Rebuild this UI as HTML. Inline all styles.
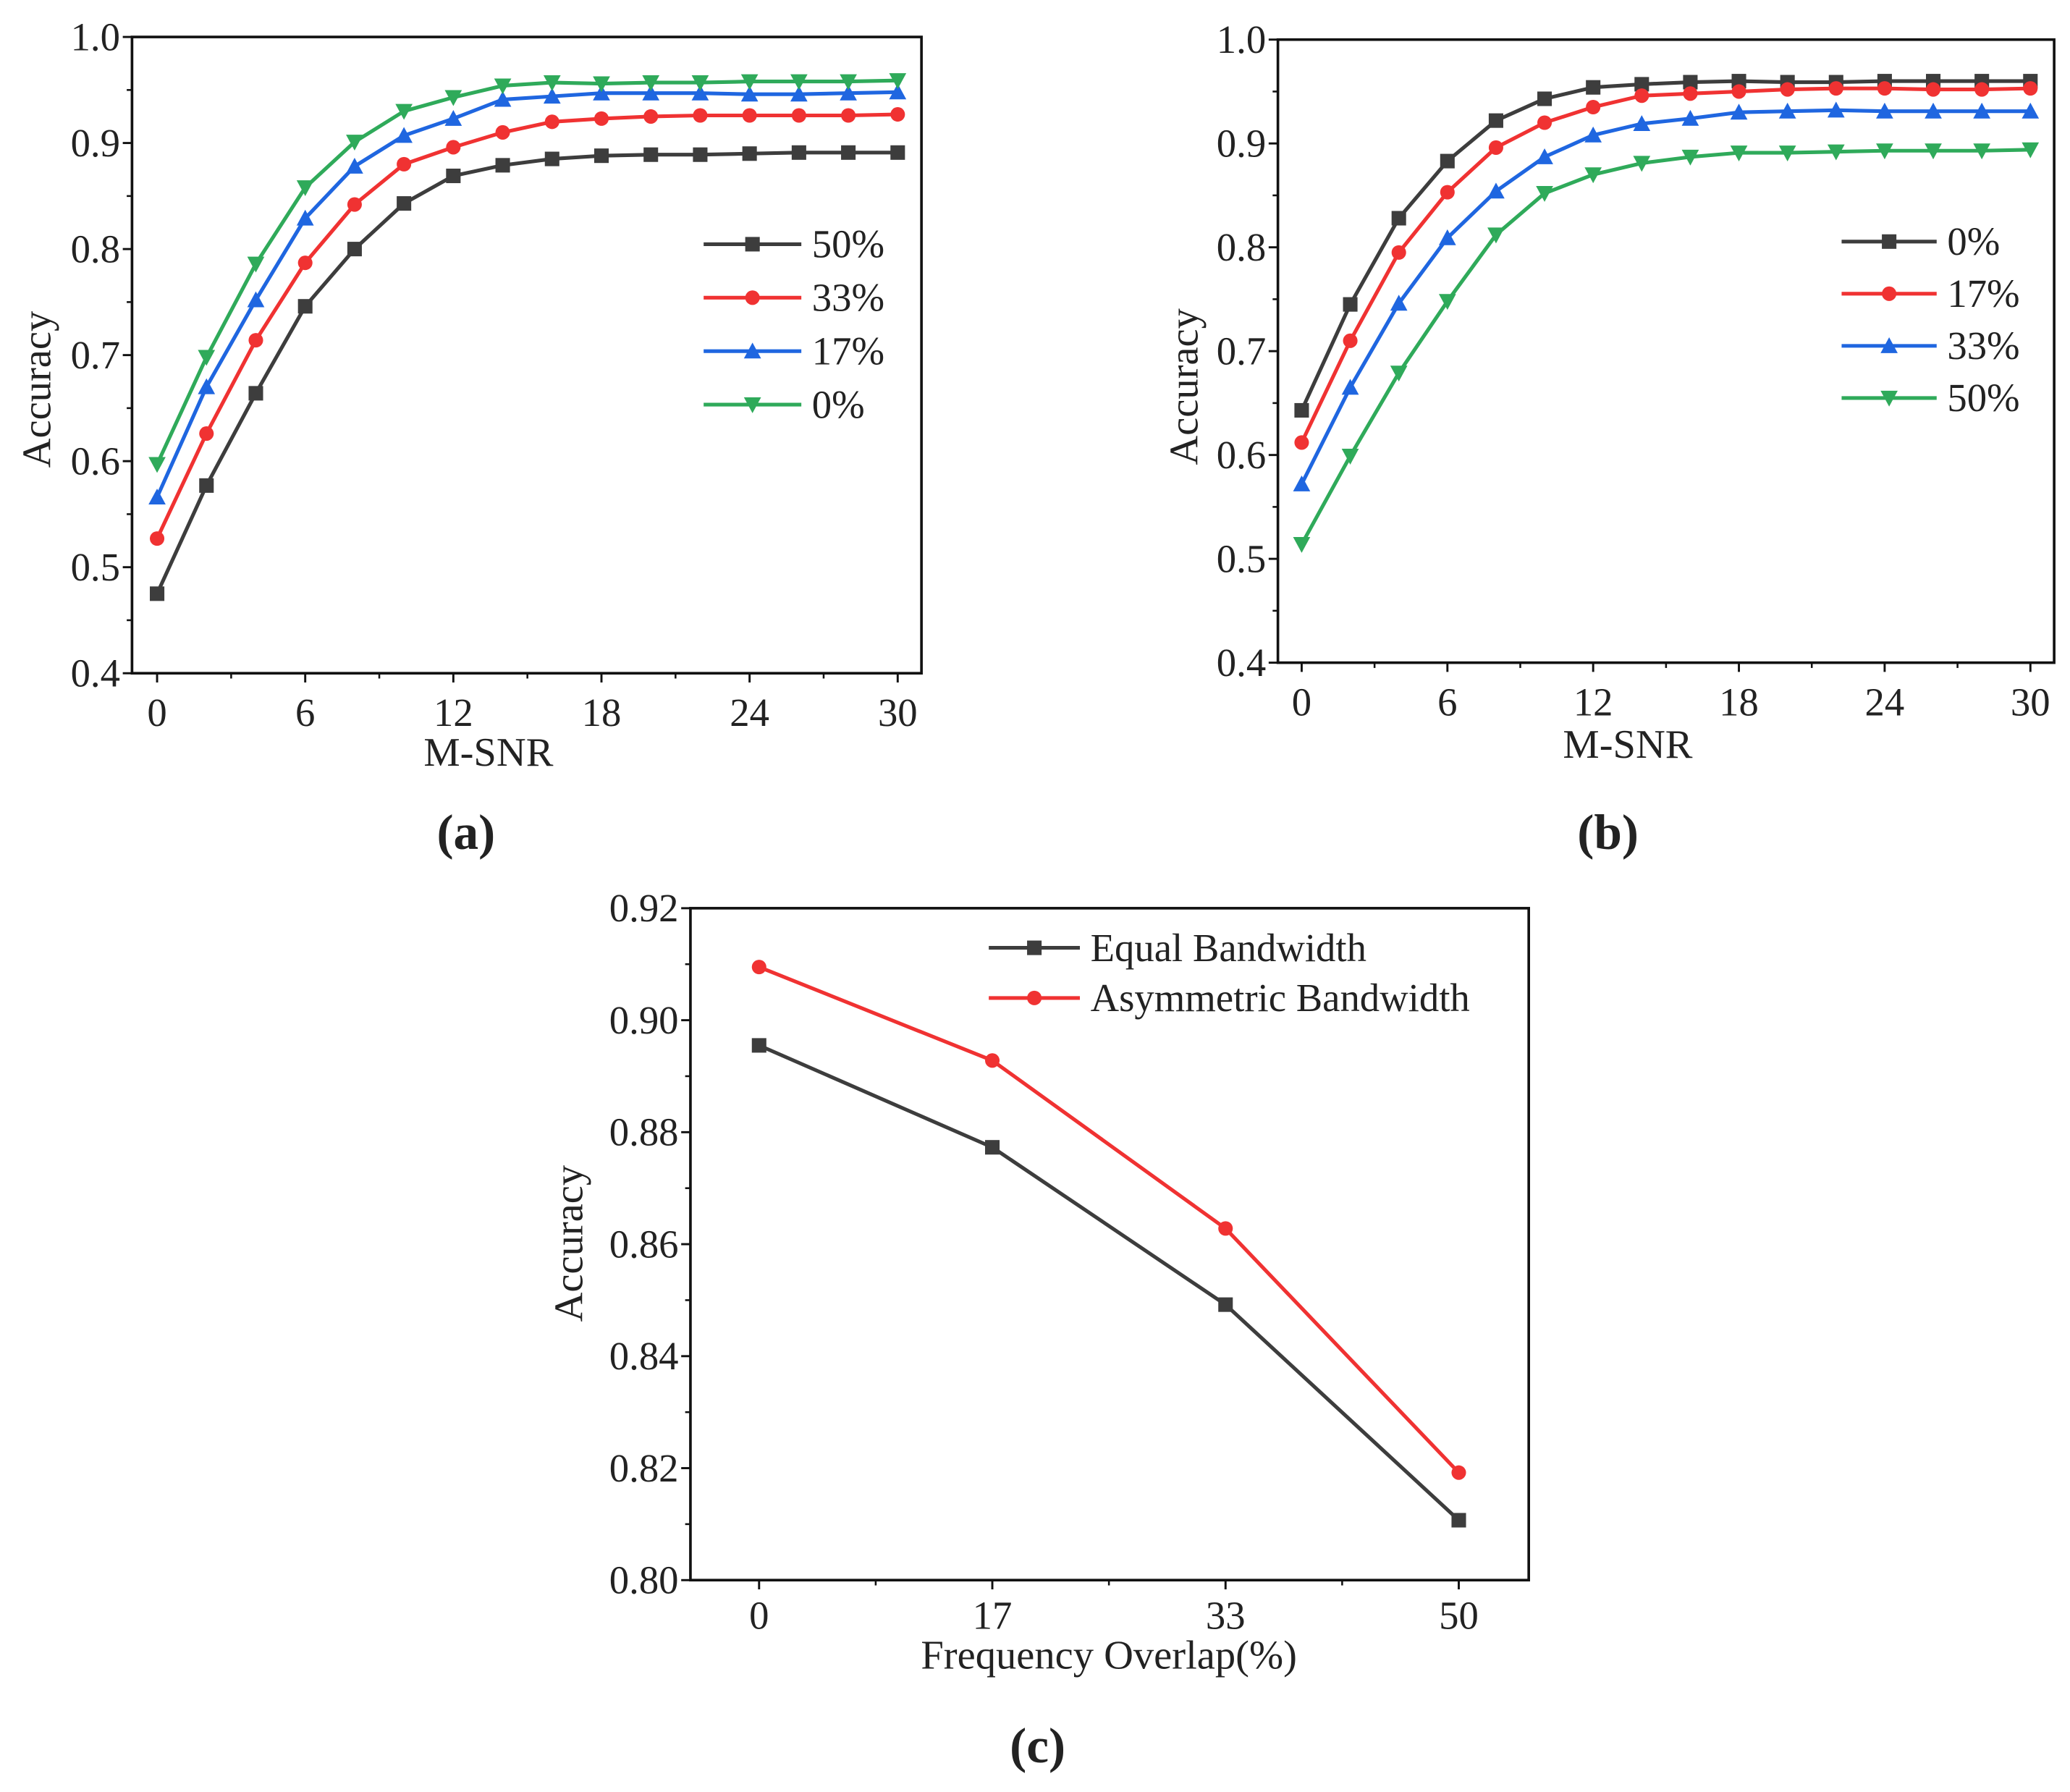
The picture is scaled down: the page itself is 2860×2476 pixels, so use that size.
<!DOCTYPE html>
<html><head><meta charset="utf-8"><style>
html,body{margin:0;padding:0;background:#fff;}
svg{display:block;}
text{font-family:"Liberation Serif",serif;fill:#222;}
</style></head><body>
<svg id="fig" width="2860" height="2476" viewBox="0 0 1568 1357.5" preserveAspectRatio="none" xmlns="http://www.w3.org/2000/svg"></svg>
<script>
const snrX = [0,2,4,6,8,10,12,14,16,18,20,22,24,26,28,30];
const aLabels = ["50%","33%","17%","0%"];
const a50 = [.475,.577,.664,.746,.800,.843,.869,.879,.885,.888,.889,.889,.890,.891,.891,.891];
const a33 = [.527,.626,.714,.787,.842,.880,.896,.910,.920,.923,.925,.926,.926,.926,.926,.927];
const a17 = [.566,.670,.752,.829,.878,.907,.923,.941,.944,.947,.947,.947,.946,.946,.947,.948];
const a0  = [.597,.698,.786,.858,.901,.930,.943,.954,.957,.956,.957,.957,.958,.958,.958,.959];
const bLabels = ["0%","17%","33%","50%"];
const b0  = [.643,.745,.828,.883,.922,.943,.954,.957,.959,.960,.959,.959,.960,.960,.960,.960];
const b17 = [.612,.710,.795,.853,.896,.920,.935,.946,.948,.950,.952,.953,.953,.952,.952,.953];
const b33 = [.572,.665,.746,.809,.854,.887,.908,.919,.924,.930,.931,.932,.931,.931,.931,.931];
const b50 = [.514,.599,.679,.748,.812,.852,.870,.881,.887,.891,.891,.892,.893,.893,.893,.894];
const snrTicks = [0,6,12,18,24,30];
const accTicksAB = [0.4,0.5,0.6,0.7,0.8,0.9,1.0];
const cCats = ["0","17","33","50"];
const cLabels = ["Equal Bandwidth","Asymmetric Bandwidth"];
const cEqual = [.8955,.8773,.8492,.8107];
const cAsym  = [.9095,.8928,.8628,.8192];
const cTicks = [0.80,0.82,0.84,0.86,0.88,0.90,0.92];

const svg = document.getElementById('fig');
const NS = "http://www.w3.org/2000/svg";
function mk(tag, attrs, parent){
  const e = document.createElementNS(NS, tag);
  for (const k in attrs) e.setAttribute(k, attrs[k]);
  (parent||svg).appendChild(e);
  return e;
}
const COL = {black:"#3d3d3d", red:"#f03232", blue:"#1f66e0", green:"#2faa5a"};

function marker(g, type, x, y, color){
  let m;
  const s = 5.5;
  if (type==="square") m = mk('rect',{x:x-s,y:y-s,width:2*s,height:2*s,fill:color},g);
  else if (type==="circle") m = mk('circle',{cx:x,cy:y,r:s,fill:color},g);
  else if (type==="up") m = mk('polygon',{points:`${x},${y-s-1} ${x-s-1},${y+s} ${x+s+1},${y+s}`,fill:color},g);
  else m = mk('polygon',{points:`${x},${y+s+1} ${x-s-1},${y-s} ${x+s+1},${y-s}`,fill:color},g);
  
  
}

function panel(cfg){
  const g = mk('g',{});
  
  
  const X = cfg.xs, Y = cfg.ys;
  const fr = mk('rect',{x:cfg.L,y:cfg.T,width:cfg.R-cfg.L,height:cfg.B-cfg.T,fill:"none",stroke:"#111","stroke-width":2},g);
  
  
  cfg.yTicks.forEach((v,i)=>{
    const y = Y(v);
    mk('line',{x1:cfg.L-7,x2:cfg.L,y1:y,y2:y,stroke:"#111","stroke-width":1.6},g);
    if (i<cfg.yTicks.length-1){
      const ym = Y((v+cfg.yTicks[i+1])/2);
      mk('line',{x1:cfg.L-4,x2:cfg.L,y1:ym,y2:ym,stroke:"#111","stroke-width":1.4},g);
    }
    const t = mk('text',{x:cfg.L-9,y:y+10,"text-anchor":"end","font-size":30},g);
    t.textContent = v.toFixed(cfg.yDec);
    
    
  });
  cfg.xTicks.forEach((v,i)=>{
    const x = X(v);
    mk('line',{x1:x,x2:x,y1:cfg.B,y2:cfg.B+7,stroke:"#111","stroke-width":1.6},g);
    if (cfg.xMinor && i<cfg.xTicks.length-1){
      const xm = X((v+cfg.xTicks[i+1])/2);
      mk('line',{x1:xm,x2:xm,y1:cfg.B,y2:cfg.B+4,stroke:"#111","stroke-width":1.4},g);
    }
    const t = mk('text',{x:x,y:cfg.xLabY,"text-anchor":"middle","font-size":30},g);
    t.textContent = cfg.xTickText ? cfg.xTickText[i] : v;
    
    
  });
  if (cfg.cMinor){
    cfg.cMinor.forEach(v=>{
      const xm = X(v);
      mk('line',{x1:xm,x2:xm,y1:cfg.B,y2:cfg.B+4,stroke:"#111","stroke-width":1.4},g);
    });
  }
  const yt = mk('text',{x:0,y:0,"text-anchor":"middle","font-size":31,transform:`translate(${cfg.yTitleX},${cfg.yTitleY}) rotate(-90)`},g);
  yt.textContent = "Accuracy";
  
  
  const xt = mk('text',{x:cfg.xTitleX,y:cfg.xTitleY,"text-anchor":"middle","font-size":31},g);
  xt.textContent = cfg.xTitle;
  
  
  const pl = mk('text',{x:cfg.plX,y:cfg.plY,"text-anchor":"middle","font-size":38,"font-weight":"bold","font-family":"Liberation Sans, sans-serif"},g);
  pl.textContent = cfg.panelLabel;
  
  
  cfg.series.forEach((s,si)=>{
    const sg = mk('g',{},g);
    
    
    const pts = s.vals.map((v,i)=>[X(cfg.xVals[i]),Y(v)]);
    const pl2 = mk('polyline',{points:pts.map(p=>p.join(',')).join(' '),fill:"none",stroke:s.color,"stroke-width":2.8,"stroke-linejoin":"round"},sg);
    
    
    pts.forEach(p=>marker(sg,s.marker,p[0],p[1],s.color));
    const ly = cfg.legY + si*cfg.legDy;
    const lg = mk('g',{},g);
    
    
    mk('line',{x1:cfg.legX1,x2:cfg.legX2,y1:ly,y2:ly,stroke:s.color,"stroke-width":2.8},lg);
    marker(lg,s.marker,(cfg.legX1+cfg.legX2)/2,ly,s.color);
    const lt = mk('text',{x:cfg.legX2+8,y:ly+10,"font-size":30},lg);
    lt.textContent = s.label;
  });
}

(function(){
  const L=100,R=698,T=28,B=510;
  const xs = v=>119+(v/30)*(680-119);
  const ys = v=>B-(v-0.4)/0.6*(B-T);
  panel({name:"chart-a",L,R,T,B,xs,ys,yTicks:accTicksAB,yDec:1,xTicks:snrTicks,xMinor:true,xLabY:550,
    yTitleX:38,yTitleY:295,xTitle:"M-SNR",xTitleX:370,xTitleY:580,plX:353,plY:643,panelLabel:"(a)",
    xVals:snrX,legX1:533,legX2:607,legY:185,legDy:40.5,
    series:[
      {label:aLabels[0],vals:a50,color:COL.black,marker:"square"},
      {label:aLabels[1],vals:a33,color:COL.red,marker:"circle"},
      {label:aLabels[2],vals:a17,color:COL.blue,marker:"up"},
      {label:aLabels[3],vals:a0,color:COL.green,marker:"down"}]});
})();
(function(){
  const L=968,R=1556,T=30,B=502;
  const xs = v=>986+(v/30)*(1538-986);
  const ys = v=>B-(v-0.4)/0.6*(B-T);
  panel({name:"chart-b",L,R,T,B,xs,ys,yTicks:accTicksAB,yDec:1,xTicks:snrTicks,xMinor:true,xLabY:542,
    yTitleX:907,yTitleY:293,xTitle:"M-SNR",xTitleX:1233,xTitleY:574,plX:1218,plY:643,panelLabel:"(b)",
    xVals:snrX,legX1:1395,legX2:1467,legY:183,legDy:39.5,
    series:[
      {label:bLabels[0],vals:b0,color:COL.black,marker:"square"},
      {label:bLabels[1],vals:b17,color:COL.red,marker:"circle"},
      {label:bLabels[2],vals:b33,color:COL.blue,marker:"up"},
      {label:bLabels[3],vals:b50,color:COL.green,marker:"down"}]});
})();
(function(){
  const L=523,R=1158,T=688,B=1197;
  const xs = i=>575+i*(1105-575)/3;
  const ys = v=>B-(v-0.80)/0.12*(B-T);
  panel({name:"chart-c",L,R,T,B,xs,ys,yTicks:cTicks,yDec:2,xTicks:[0,1,2,3],xTickText:cCats,xMinor:false,cMinor:[0.5,1.5,2.5],xLabY:1234,
    yTitleX:441,yTitleY:942,xTitle:"Frequency Overlap(%)",xTitleX:840,xTitleY:1264,plX:786,plY:1335,panelLabel:"(c)",
    xVals:[0,1,2,3],legX1:749,legX2:818,legY:718,legDy:38,
    series:[
      {label:cLabels[0],vals:cEqual,color:COL.black,marker:"square"},
      {label:cLabels[1],vals:cAsym,color:COL.red,marker:"circle"}]});
})();
</script>
</body></html>
